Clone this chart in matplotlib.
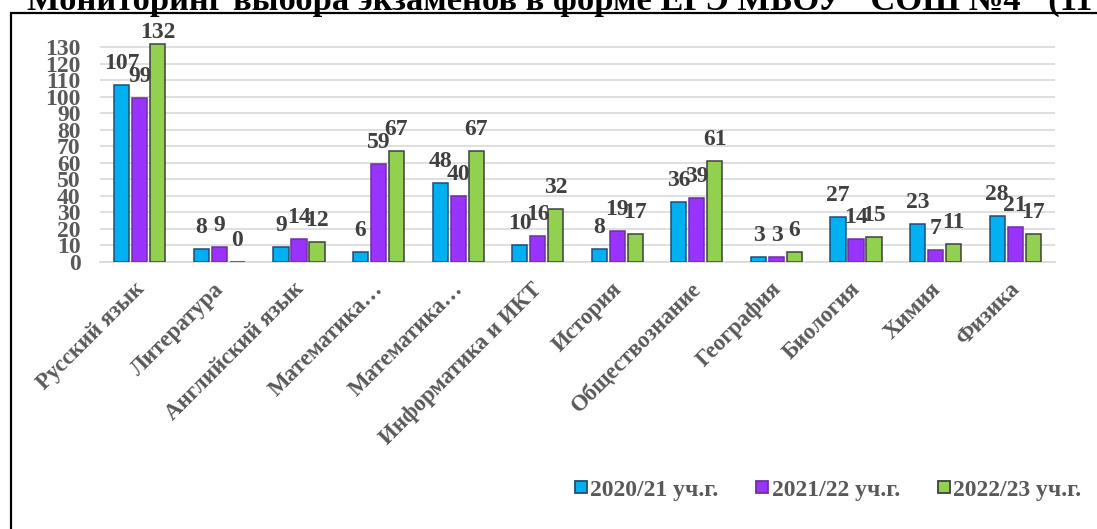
import matplotlib
matplotlib.use("Agg")
import matplotlib.pyplot as plt
import matplotlib.transforms as mtransforms
import numpy as np
from matplotlib.patches import Rectangle
from matplotlib.lines import Line2D

categories = ["Русский язык", "Литература", "Английский язык", "Математика…",
              "Математика…", "Информатика и ИКТ", "История", "Обществознание",
              "География", "Биология", "Химия", "Физика"]
series_names = ["2020/21 уч.г.", "2021/22 уч.г.", "2022/23 уч.г."]
v2021 = [107, 8, 9, 6, 48, 10, 8, 36, 3, 27, 23, 28]
v2022 = [99, 9, 14, 59, 40, 16, 19, 39, 3, 14, 7, 21]
v2023 = [132, 0, 12, 67, 67, 32, 17, 61, 6, 15, 11, 17]
yticks = list(range(0, 131, 10))
title = "Мониторинг выбора экзаменов в форме ЕГЭ МБОУ \"СОШ №4\" (11 класс)"

face = ["#00B0F0", "#9933FF", "#92D050"]
edge = ["#1F4E79", "#7030A0", "#404040"]

W, H = 1097, 529
fig = plt.figure(figsize=(W / 100, H / 100), dpi=100)
plt.rcParams['font.family'] = ['Liberation Serif', 'DejaVu Serif']

# outer frame
fig.patches.append(Rectangle((11 / W, -0.5), 2.0, 0.5 + (1 - 13 / H),
                             transform=fig.transFigure, fill=False,
                             edgecolor="black", linewidth=1.6, zorder=0))

# title (clipped at top) -- size fitted so its words land where the reference shows them
def text_w(s, fs):
    t = fig.text(0, 0, s, fontsize=fs, fontweight="bold")
    fig.canvas.draw()
    w = t.get_window_extent().width
    t.remove()
    return w

fs0 = 23
w_mid = text_w("выбора экзаменов в форме ЕГЭ МБОУ \"", fs0)
fs_title = fs0 * (872 - 233) / w_mid
wpx = text_w("Мониторинг ", fs_title)
fig.text((233 - wpx) / W, 1 - 10 / H, title, fontsize=fs_title, fontweight="bold",
         va="baseline", ha="left", color="black")

ymax = 135
ax_bottom_px = 262
px_per_unit = (262 - 47) / 130
ax_h = ymax * px_per_unit
ax = fig.add_axes([100 / W, 1 - ax_bottom_px / H, (1055 - 100) / W, ax_h / H])

x = np.arange(len(categories))
bw = 0.19
step = 0.226
label_gap_px = 16
label_top_limit_px = 38  # labels are kept inside the plot area
for i, vals in enumerate([v2021, v2022, v2023]):
    xs = x + (i - 1) * step
    ax.bar(xs, vals, width=bw, color=face[i], edgecolor=edge[i], linewidth=1.1,
           zorder=3, label=series_names[i])
    for xi, v in zip(xs, vals):
        room = (ax_bottom_px - label_top_limit_px) - v * px_per_unit
        off_px = min(label_gap_px, room)
        ax.annotate(str(v), (xi, v), xytext=(0, off_px * 0.72),
                    textcoords="offset points",
                    ha="center", va="baseline", fontsize=17, fontweight="bold",
                    color="#404040", zorder=4)

ax.set_xlim(-0.5, len(categories) - 0.5)
ax.set_ylim(0, ymax)
ax.set_yticks(yticks)
ax.set_yticklabels([str(t) for t in yticks], fontsize=17, fontweight="bold",
                   color="#595959")
ax.yaxis.grid(True, color="#D9D9D9", linewidth=1.2, zorder=0)
ax.set_axisbelow(True)
for s in ["top", "right", "left"]:
    ax.spines[s].set_visible(False)
ax.spines["bottom"].set_color("#D9D9D9")
ax.spines["bottom"].set_linewidth(1.2)
ax.tick_params(axis="y", length=0, pad=14)
ax.tick_params(axis="x", length=0, pad=12)
ax.set_xticks(x)
ax.set_xticklabels(categories, rotation=45, ha="right", rotation_mode="anchor",
                   fontsize=16.5, fontweight="bold", color="#595959")
shift = mtransforms.ScaledTranslation(-6 / 100, 0, fig.dpi_scale_trans)
for lbl in ax.get_xticklabels():
    lbl.set_transform(lbl.get_transform() + shift)

handles = [Line2D([0], [0], marker="s", linestyle="none", markersize=8.5,
                  markerfacecolor=face[i], markeredgecolor=edge[i],
                  markeredgewidth=1.3) for i in range(3)]
fig.legend(handles, series_names, loc="center",
           bbox_to_anchor=(827 / W, 1 - 490 / H), ncol=3, frameon=False,
           prop={"size": 17, "weight": "bold"}, labelcolor="#595959",
           handletextpad=0.05, columnspacing=1.5, handlelength=0.7)

fig.savefig("out.png", dpi=100)
